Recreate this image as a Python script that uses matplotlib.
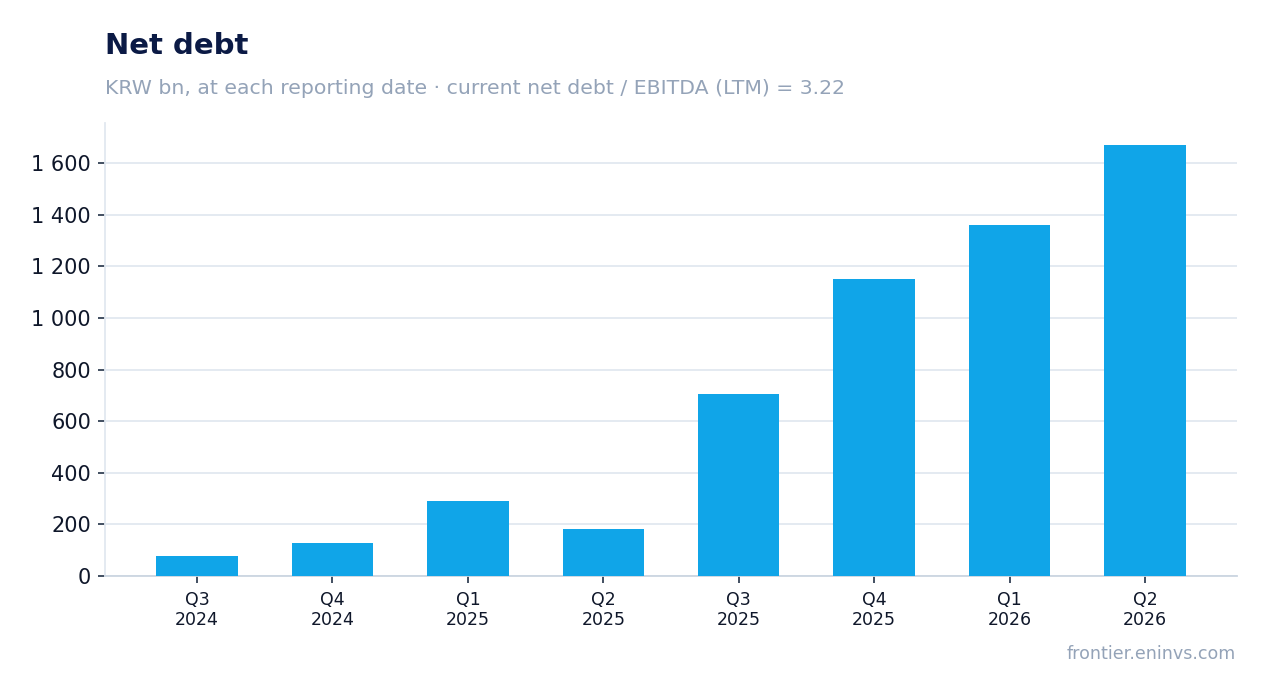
import matplotlib
matplotlib.use("Agg")
import matplotlib.pyplot as plt
from matplotlib.ticker import FuncFormatter, MultipleLocator

categories = ["Q3\n2024", "Q4\n2024", "Q1\n2025", "Q2\n2025",
              "Q3\n2025", "Q4\n2025", "Q1\n2026", "Q2\n2026"]
net_debt = [79, 129, 292, 183, 706, 1152, 1361, 1672]

title = "Net debt"
subtitle = "KRW bn, at each reporting date · current net debt / EBITDA (LTM) = 3.22"
footer = "frontier.eninvs.com"

BAR = "#10a5e8"
NAVY = "#0b1a45"
MUTED = "#94a3b8"
GRID = "#e2e8f0"
TEXT = "#0f172a"

plt.rcParams["font.family"] = ["DejaVu Sans"]

fig = plt.figure(figsize=(12.67, 6.93), dpi=100)
ax = fig.add_axes([105/1267, 1-576/693, (1237-105)/1267, (576-123)/693])

x = list(range(len(categories)))
ax.bar(x, net_debt, width=0.6, color=BAR, zorder=3)

ax.set_xlim(-0.68, len(categories) - 1 + 0.68)
ax.set_ylim(0, max(net_debt) * 1.05)
ax.yaxis.set_major_locator(MultipleLocator(200))
ax.yaxis.set_major_formatter(FuncFormatter(lambda v, p: f"{int(v):,}".replace(",", " ")))
ax.set_xticks(x)
ax.set_xticklabels(categories, fontsize=12.5, color=TEXT, linespacing=1.1)

ax.grid(axis="y", color=GRID, linewidth=1.3, zorder=0)
ax.set_axisbelow(True)
for s in ["top", "right"]:
    ax.spines[s].set_visible(False)
ax.spines["left"].set_color(GRID)
ax.spines["left"].set_linewidth(1.3)
ax.spines["bottom"].set_color("#cbd5e1")
ax.spines["bottom"].set_linewidth(1.3)

ax.tick_params(axis="y", labelsize=15, colors=TEXT, length=5, width=1.3, pad=5)
ax.tick_params(axis="x", length=5, width=1.3, pad=6, colors="#334155", labelcolor=TEXT)
ax.tick_params(axis="y", color="#334155")

fig.text(105/1267, 1-54/693, title, fontsize=21, fontweight="bold", color=NAVY, va="baseline", ha="left")
fig.text(105/1267, 1-94/693, subtitle, fontsize=14.7, color=MUTED, va="baseline", ha="left")
fig.text(1236/1267, 1-659/693, footer, fontsize=12.6, color=MUTED, va="baseline", ha="right")

fig.savefig("out.png", dpi=100)
